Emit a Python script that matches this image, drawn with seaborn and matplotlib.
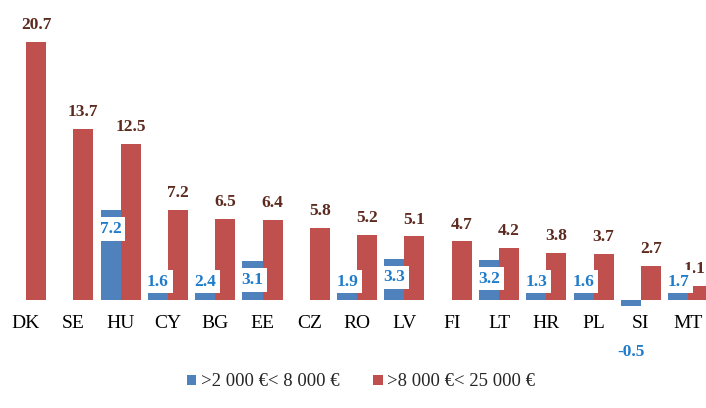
import numpy as np
import pandas as pd
import matplotlib
matplotlib.use("Agg")
import matplotlib.pyplot as plt
import seaborn as sns

categories = ["DK", "SE", "HU", "CY", "BG", "EE", "CZ", "RO", "LV", "FI", "LT", "HR", "PL", "SI", "MT"]
low_band = [np.nan, np.nan, 7.2, 1.6, 2.4, 3.1, np.nan, 1.9, 3.3, np.nan, 3.2, 1.3, 1.6, -0.5, 1.7]
high_band = [20.7, 13.7, 12.5, 7.2, 6.5, 6.4, 5.8, 5.2, 5.1, 4.7, 4.2, 3.8, 3.7, 2.7, 1.1]
series_names = [">2 000 \u20ac< 8 000 \u20ac", ">8 000 \u20ac< 25 000 \u20ac"]
colors = ["#4F81BD", "#C0504D"]
label_colors = ["#1F7CCB", "#5C2A1E"]

df = pd.DataFrame({
    "country": categories * 2,
    "value": low_band + high_band,
    "series": [series_names[0]] * len(categories) + [series_names[1]] * len(categories),
})

sns.set_theme(style="white")
plt.rcParams["font.family"] = ["Liberation Serif", "DejaVu Serif"]

fig = plt.figure(figsize=(7.06, 4.08), dpi=100)
W, H = 706, 408
ax = fig.add_axes([2.35 / W, 101.1 / H, 709.5 / W, 281 / H])

sns.barplot(data=df, x="country", y="value", hue="series", hue_order=series_names,
            order=categories, palette=colors, saturation=1, width=0.846,
            errorbar=None, ax=ax, linewidth=0)

ax.set_ylim(-0.55, 22)
ax.set_xlim(-0.5, len(categories) - 0.5)
ax.set_xlabel("")
ax.set_ylabel("")
ax.set_yticks([])
for s in ax.spines.values():
    s.set_visible(False)
ax.tick_params(axis="x", length=0, pad=6, labelsize=14, colors="black")
for t in ax.get_xticklabels():
    t.set_fontfamily(["Liberation Serif", "DejaVu Serif"])

blue_c, red_c = ax.containers[0], ax.containers[1]

# blue labels: inside end, white box
for bar in blue_c:
    h = bar.get_height()
    if h is None or np.isnan(h):
        continue
    xc = bar.get_x() + bar.get_width() / 2
    if h >= 0:
        yc = max(h - 1.48, 1.48)
        ax.text(xc, yc, f"{h:.1f}", ha="center", va="center", fontsize=12.5,
                fontweight="bold", color=label_colors[0], zorder=5,
                bbox=dict(boxstyle="square,pad=0.22", fc="white", ec="none"))
    else:
        ax.text(xc, h - 3.7, f"{h:.1f}", ha="center", va="center", fontsize=12.5,
                fontweight="bold", color=label_colors[0], zorder=5, clip_on=False)

# red labels above bars
red_labels = []
for bar in red_c:
    h = bar.get_height()
    if h is None or np.isnan(h):
        continue
    xc = bar.get_x() + bar.get_width() / 2
    a = ax.annotate(f"{h:.1f}", (xc, h), xytext=(0, 12.2), textcoords="offset points",
                    ha="center", va="center", fontsize=12.5, fontweight="bold",
                    color=label_colors[1], annotation_clip=False)
    red_labels.append(a)

# keep labels inside the figure (like the reference's edge label)
fig.canvas.draw()
renderer = fig.canvas.get_renderer()
for a in red_labels:
    bb = a.get_window_extent(renderer)
    if bb.x1 > W - 1:
        shift_px = bb.x1 - (W - 1)
        a.set_position((-shift_px * 72 / fig.dpi, 12.2))

handles, labels = ax.get_legend_handles_labels()
if ax.legend_ is not None:
    ax.legend_.remove()
fig.legend(handles, labels, loc="center", bbox_to_anchor=(361 / W, 1 - 382 / H),
           ncol=2, frameon=False, fontsize=13.5, handlelength=0.5, handleheight=0.5,
           handletextpad=0.25, columnspacing=1.8)

fig.savefig("out.png", dpi=100)
